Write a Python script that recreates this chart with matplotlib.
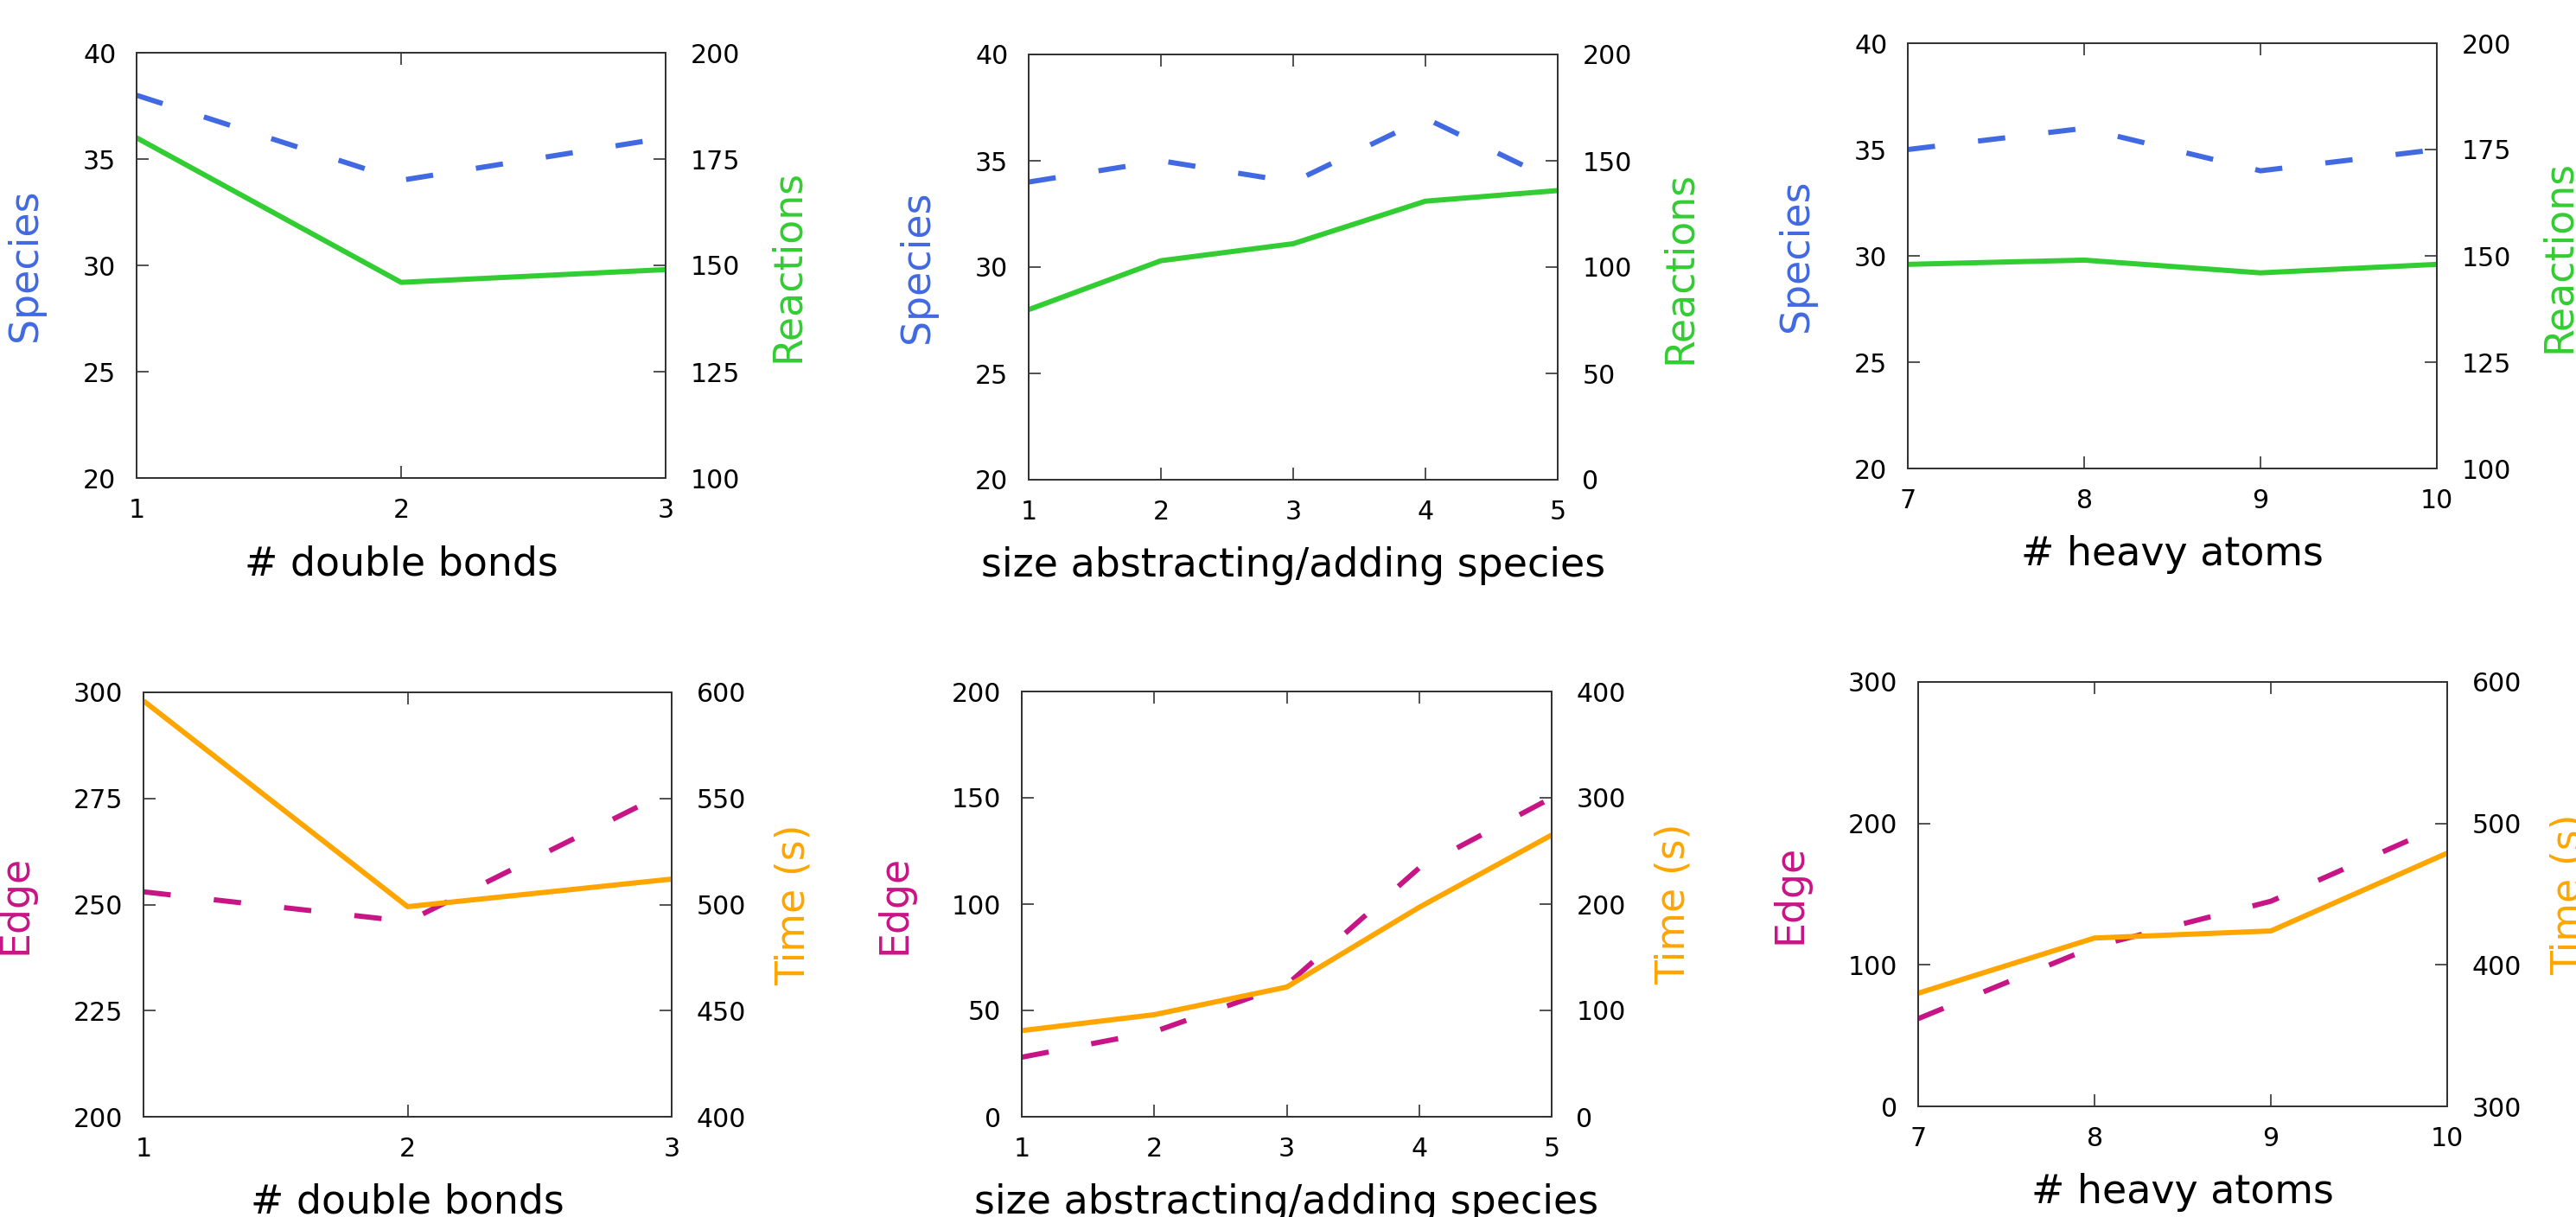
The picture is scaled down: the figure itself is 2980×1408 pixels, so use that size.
import matplotlib
matplotlib.use("Agg")
import matplotlib.pyplot as plt

# ---------------- data ----------------
x_bonds = [1, 2, 3]
x_size = [1, 2, 3, 4, 5]
x_atoms = [7, 8, 9, 10]

species_bonds = [38, 34, 36]
reactions_bonds = [180, 146, 149]
species_size = [34, 35, 34, 37, 34]
reactions_size = [80, 103, 111, 131, 136]
species_atoms = [35, 36, 34, 35]
reactions_atoms = [148, 149, 146, 148]

edge_bonds = [253, 246, 277]
time_bonds = [596, 499, 512]
edge_size = [28, 40, 62, 117, 150]
time_size = [81, 96, 122, 197, 265]
edge_atoms = [62, 113, 145, 200]
time_atoms = [380, 419, 424, 479]

xlabels = ["# double bonds", "size abstracting/adding species", "# heavy atoms"]

# ---------------- style ----------------
plt.rcParams['font.family'] = ['DejaVu Sans']
W, H = 2980, 1408
DPI = 100
fig = plt.figure(figsize=(W / DPI, H / DPI), dpi=DPI)

C_SPEC = '#4169E1'
C_REAC = '#32CD32'
C_EDGE = '#C71585'
C_TIME = '#FFA500'
LW = 4.3
DASH = (5.3, 8.4)
TICK_FS = 21.6
LABEL_FS = 33
SPINE_C = '#333333'

# panel boxes in pixels: left, right, top, bottom
boxes = [
    (158, 770, 61, 553),
    (1190, 1802, 63, 555),
    (2207, 2819, 50, 542),
    (166, 777, 801, 1292),
    (1182, 1795, 800, 1292),
    (2219, 2831, 789, 1280),
]


def make_axes(box):
    l, r, t, b = box
    return fig.add_axes([l / W, 1 - b / H, (r - l) / W, (b - t) / H])


def style(ax, ax2, xs, ylim1, yt1, ylim2, yt2, ylab1, c1, ylab2, c2, xlab, lpad1):
    l, r, t, b = 0, 0, 0, 0
    ax.set_xlim(xs[0], xs[-1])
    ax.set_xticks(xs)
    ax.set_ylim(*ylim1)
    ax.set_yticks(yt1)
    ax2.set_ylim(*ylim2)
    ax2.set_yticks(yt2)
    for a in (ax, ax2):
        for s in a.spines.values():
            s.set_color(SPINE_C)
            s.set_linewidth(1.3)
    ax.tick_params(axis='x', which='both', direction='in', length=10, width=1.2,
                   color=SPINE_C, top=True, bottom=True, labelsize=TICK_FS, pad=16.5)
    ax.tick_params(axis='y', direction='in', length=10, width=1.2, color=SPINE_C,
                   left=True, right=False, labelsize=TICK_FS, pad=17)
    ax2.tick_params(axis='y', direction='in', length=10, width=1.2, color=SPINE_C,
                    left=False, right=True, labelsize=TICK_FS, pad=20.5)
    ax.set_ylabel(ylab1, color=c1, fontsize=LABEL_FS)
    ax2.set_ylabel(ylab2, color=c2, fontsize=LABEL_FS)
    ax.set_xlabel(xlab, fontsize=LABEL_FS)
    return ax


panels = [
    (x_bonds, species_bonds, reactions_bonds),
    (x_size, species_size, reactions_size),
    (x_atoms, species_atoms, reactions_atoms),
    (x_bonds, edge_bonds, time_bonds),
    (x_size, edge_size, time_size),
    (x_atoms, edge_atoms, time_atoms),
]

limits = [
    ((20, 40), [20, 25, 30, 35, 40], (100, 200), [100, 125, 150, 175, 200]),
    ((20, 40), [20, 25, 30, 35, 40], (0, 200), [0, 50, 100, 150, 200]),
    ((20, 40), [20, 25, 30, 35, 40], (100, 200), [100, 125, 150, 175, 200]),
    ((200, 300), [200, 225, 250, 275, 300], (400, 600), [400, 450, 500, 550, 600]),
    ((0, 200), [0, 50, 100, 150, 200], (0, 400), [0, 100, 200, 300, 400]),
    ((0, 300), [0, 100, 200, 300], (300, 600), [300, 400, 500, 600]),
]

for i, (box, (xs, y1, y2), lim) in enumerate(zip(boxes, panels, limits)):
    ax = make_axes(box)
    ax2 = ax.twinx()
    top_row = i < 3
    c1 = C_SPEC if top_row else C_EDGE
    c2 = C_REAC if top_row else C_TIME
    lab1 = "Species" if top_row else "Edge"
    lab2 = "Reactions" if top_row else "Time (s)"
    ax.plot(xs, y1, color=c1, lw=LW, dashes=DASH, solid_capstyle='butt',
            dash_capstyle='butt')
    ax2.plot(xs, y2, color=c2, lw=LW, solid_capstyle='butt')
    style(ax, ax2, xs, lim[0], lim[1], lim[2], lim[3], lab1, c1, lab2, c2,
          xlabels[i % 3], 0)
    w = box[1] - box[0]
    h = box[3] - box[2]
    left_off = 106 if top_row else 125
    ax.yaxis.set_label_coords(-left_off / w, 0.5)
    ax2.yaxis.set_label_coords(1 + 119 / w, 0.5)
    ax.xaxis.set_label_coords(0.5, -77 / h)

fig.savefig("out.png", dpi=DPI)
